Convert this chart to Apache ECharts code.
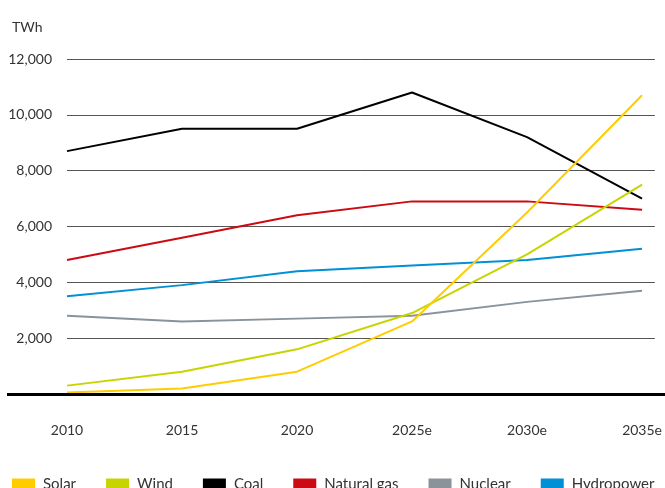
<!DOCTYPE html>
<html>
<head>
<meta charset="utf-8">
<script src="https://cdn.jsdelivr.net/npm/echarts@6/dist/echarts.min.js"></script>
<style>html,body{margin:0;padding:0;background:#fff;}#c{width:665px;height:488px;}</style>
</head>
<body>
<div id="c"></div>
<script>
var categories = ['2010', '2015', '2020', '2025e', '2030e', '2035e'];
var solar = [50, 200, 800, 2600, 6500, 10700];
var wind = [300, 800, 1600, 2900, 5000, 7500];
var coal = [8700, 9500, 9500, 10800, 9200, 7000];
var naturalGas = [4800, 5600, 6400, 6900, 6900, 6600];
var nuclear = [2800, 2600, 2700, 2800, 3300, 3700];
var hydropower = [3500, 3900, 4400, 4600, 4800, 5200];
var seriesNames = ['Solar', 'Wind', 'Coal', 'Natural gas', 'Nuclear', 'Hydropower'];
var seriesData = [solar, wind, coal, naturalGas, nuclear, hydropower];
var colors = ['#FFCC00', '#C8D400', '#000000', '#CC0A14', '#8A939A', '#0090D5'];
var unitLabel = 'TWh';

var years = categories.map(function (c) { return parseInt(c, 10); });
var labelByYear = {};
years.forEach(function (y, i) { labelByYear[y] = categories[i]; });

var font = 'Lato';
var chart = echarts.init(document.getElementById('c'));
chart.setOption({
  animation: false,
  color: colors,
  title: {
    text: unitLabel, left: 7, top: 15,
    textStyle: { fontFamily: font, fontSize: 14, fontWeight: 'normal', color: '#333' }
  },
  legend: {
    data: seriesNames, left: 7, top: 472, itemWidth: 23, itemHeight: 12, itemGap: 30,
    icon: 'rect',
    textStyle: { fontFamily: font, fontSize: 15, color: '#333', padding: [0, 0, 0, 3] }
  },
  grid: { left: 67, right: 0, top: 59, bottom: 94, containLabel: false },
  xAxis: {
    type: 'value', min: 2010, max: 2035.556, interval: 5,
    axisLine: { show: false }, axisTick: { show: false }, splitLine: { show: false },
    axisLabel: {
      fontFamily: font, fontSize: 14, color: '#333', margin: 29, showMaxLabel: false,
      formatter: function (v) { return labelByYear[v] || ''; }
    }
  },
  yAxis: {
    type: 'value', min: 0, max: 12000, interval: 2000,
    axisLine: { show: false }, axisTick: { show: false },
    axisLabel: {
      fontFamily: font, fontSize: 14, color: '#333', margin: 15,
      formatter: function (v) { return v === 0 ? '' : v.toLocaleString('en-US'); }
    },
    splitLine: { lineStyle: { color: '#555', width: 1 } }
  },
  graphic: [{
    type: 'line', shape: { x1: 7, y1: 394.5, x2: 665, y2: 394.5 },
    style: { stroke: '#000', lineWidth: 3 }, z: 100
  }],
  series: seriesNames.map(function (n, i) {
    return {
      name: n, type: 'line', symbol: 'none',
      data: years.map(function (y, j) { return [y, seriesData[i][j]]; }),
      lineStyle: { width: 2, color: colors[i] }, z: 10 - i
    };
  })
});
</script>
</body>
</html>
